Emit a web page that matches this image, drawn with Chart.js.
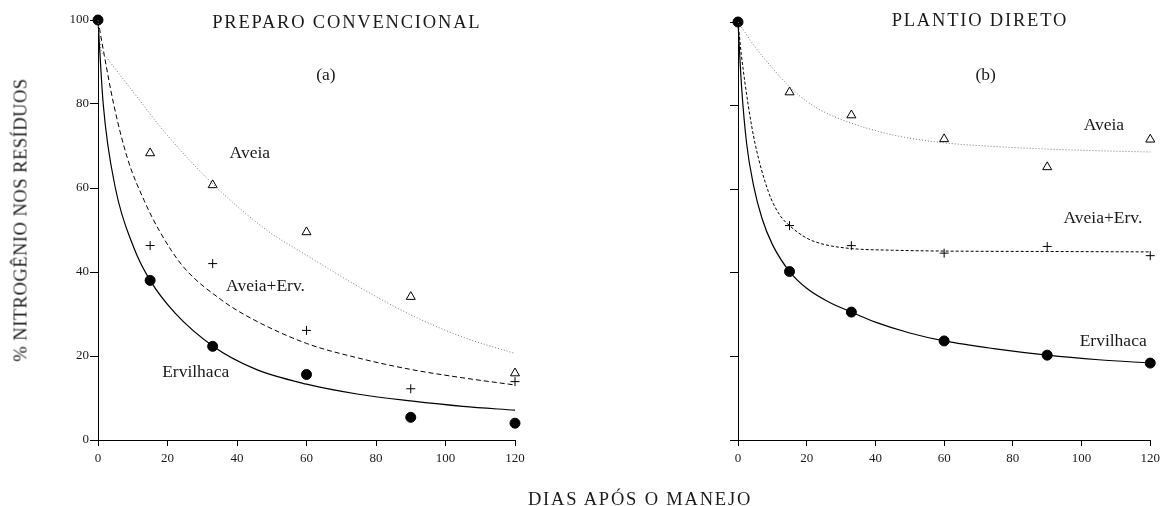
<!DOCTYPE html>
<html lang="pt">
<head>
<meta charset="utf-8">
<title>Nitrogênio nos resíduos</title>
<script src="https://cdn.jsdelivr.net/npm/chart.js@4.4.1/dist/chart.umd.min.js"></script>
<style>
  body { margin: 0; background: #fff; width: 1165px; height: 506px; position: relative; overflow: hidden; }
  canvas { position: absolute; top: 0; }
  #grafPC { left: 0; }
  #grafPD { left: 560px; }
  .titulo { position: absolute; font-family: "Liberation Serif", serif; color: #1a1a1a; white-space: nowrap; }
  #tituloY { left: 21px; top: 220px; font-size: 18.5px; letter-spacing: 0.5px; transform: translate(-50%, -50%) rotate(-90deg); }
  #tituloX { left: 640px; top: 499px; font-size: 18.5px; letter-spacing: 1.8px; transform: translate(-50%, -50%); }
</style>
</head>
<body>
<canvas id="grafPC" width="540" height="506"></canvas>
<canvas id="grafPD" width="605" height="506"></canvas>
<div class="titulo" id="tituloY">% NITROGÊNIO NOS RESÍDUOS</div>
<div class="titulo" id="tituloX">DIAS APÓS O MANEJO</div>
<script>
// Dias das coletas (pontos observados)
const dias = [0, 15, 33, 60, 90, 120];

// Preparo convencional - valores observados
const pcErvilha = [100, 38, 22.3, 15.6, 5.4, 4.0];
const pcMistura = [null, 46.3, 42, 26.1, 12.2, 13.9];
const pcAveia = [null, 68.3, 60.7, 49.5, 34.1, 15.9];

// Plantio direto - valores observados
const pdErvilha = [100, 40.3, 30.6, 23.7, 20.3, 18.4];
const pdMistura = [null, 51.3, 46.5, 44.7, 46.3, 44.1];
const pdAveia = [null, 83.2, 77.7, 72.0, 65.3, 71.9];

// Curvas ajustadas
const pcCurvaErvilhaX = [0, 1.5, 5, 10.4, 15, 22.2, 33, 45, 60, 75, 90, 105, 120];
const pcCurvaErvilhaY = [100, 80, 60, 45.6, 38, 30.2, 22.4, 17, 13.3, 10.9, 9.3, 8, 7.1];
const pcCurvaMisturaX = [0, 1.5, 4.5, 8.5, 13.3, 17.8, 24.5, 35.6, 44, 60, 75, 90, 105, 120];
const pcCurvaMisturaY = [100, 93, 80, 67, 57, 49.6, 41.3, 33.3, 29, 23, 19.5, 16.8, 14.8, 13.1];
const pcCurvaAveiaX = [0, 1, 2, 4, 10, 20, 33, 48.5, 60, 75, 90, 105, 120];
const pcCurvaAveiaY = [100, 92.5, 91.5, 89.4, 83, 72.5, 61, 50, 44, 36.5, 29.8, 24.5, 20.6];

const pdCurvaErvilhaX = [0, 1, 2.5, 4.5, 7, 10, 15, 20, 26, 33, 40, 50, 60, 75, 90, 105, 120];
const pdCurvaErvilhaY = [100, 85, 71, 61, 53, 46.8, 40.3, 36.3, 33.2, 30.6, 28.2, 25.6, 23.7, 21.8, 20.3, 19.2, 18.4];
const pdCurvaMisturaX = [0, 1, 3, 5, 8.8, 12, 15, 20, 25, 33, 45, 60, 90, 120];
const pdCurvaMisturaY = [100, 92, 80, 70.8, 59.5, 54, 51.3, 48.3, 46.8, 45.8, 45.4, 45.2, 45.1, 45];
const pdCurvaAveiaX = [0, 5, 10, 15, 20, 25, 33, 45, 60, 75, 90, 105, 120];
const pdCurvaAveiaY = [100, 94, 89, 84.5, 81, 78.5, 75.8, 73, 71.1, 70.2, 69.6, 69.2, 68.9];

const fonte = "Liberation Serif";
const corTexto = "#1a1a1a";

function pares(xs, ys) {
    return xs.map((x, i) => ({ x: x, y: ys[i] })).filter(p => p.y !== null);
}

function curva(xs, ys, cor, tracejado, largura) {
    return {
        type: "line",
        data: pares(xs, ys),
        showLine: true,
        borderColor: cor,
        borderWidth: largura,
        borderDash: tracejado,
        pointRadius: 0,
        cubicInterpolationMode: "monotone",
        fill: false,
        clip: false,
    };
}

function marcas(ys, estilo, raio, fundo) {
    return {
        type: "scatter",
        data: pares(dias, ys),
        pointStyle: estilo,
        pointRadius: raio,
        backgroundColor: fundo,
        borderColor: "#000",
        borderWidth: 1,
        clip: false,
    };
}

// Plugin simples para escrever os rótulos dentro do gráfico
const pluginRotulos = {
    id: "rotulos",
    afterDatasetsDraw(chart, args, opts) {
        const ctx = chart.ctx;
        ctx.save();
        ctx.fillStyle = corTexto;
        ctx.textAlign = "center";
        ctx.textBaseline = "middle";
        for (const r of opts.itens) {
            ctx.font = r.tamanho + "px '" + fonte + "'";
            ctx.letterSpacing = (r.espaco || 0) + "px";
            ctx.fillText(r.texto, chart.scales.x.getPixelForValue(r.x), chart.scales.y.getPixelForValue(r.y));
        }
        ctx.restore();
    },
};

function opcoes(larguraY, mostraNumerosY, padding, rotulos) {
    return {
        responsive: false,
        animation: false,
        events: [],
        layout: { padding: padding },
        plugins: {
            legend: { display: false },
            tooltip: { enabled: false },
            rotulos: { itens: rotulos },
        },
        scales: {
            x: {
                type: "linear",
                min: 0,
                max: 120,
                ticks: { stepSize: 20, color: corTexto, font: { family: fonte, size: 13 }, padding: 5, maxRotation: 0 },
                grid: { drawOnChartArea: false, drawTicks: true, tickLength: 6, color: "#000" },
                border: { color: "#000", width: 1 },
                afterFit: (s) => { s.height = 66; },
            },
            y: {
                type: "linear",
                min: 0,
                max: 100,
                ticks: {
                    stepSize: 20,
                    color: corTexto,
                    font: { family: fonte, size: 13 },
                    padding: 1,
                    callback: (v) => (mostraNumerosY ? v : ""),
                },
                grid: { drawOnChartArea: false, drawTicks: true, tickLength: 8, color: "#000" },
                border: { color: "#000", width: 1 },
                afterFit: (s) => { s.width = larguraY; },
            },
        },
    };
}

new Chart(document.getElementById("grafPC"), {
    type: "scatter",
    data: {
        datasets: [
            curva(pcCurvaAveiaX, pcCurvaAveiaY, "#777", [1, 2], 1),
            curva(pcCurvaMisturaX, pcCurvaMisturaY, "#000", [5, 3], 1),
            curva(pcCurvaErvilhaX, pcCurvaErvilhaY, "#000", [], 1.2),
            marcas(pcAveia, "triangle", 5.2, "#fff"),
            marcas(pcMistura, "cross", 4.5, "#000"),
            marcas(pcErvilha, "circle", 5, "#000"),
        ],
    },
    options: opcoes(98, true, { left: 0, right: 25, top: 20, bottom: 0 }, [
        { texto: "PREPARO CONVENCIONAL", x: 71.6, y: 99.3, tamanho: 18.5, espaco: 1.8 },
        { texto: "(a)", x: 65.6, y: 86.7, tamanho: 17.5 },
        { texto: "Aveia", x: 43.7, y: 68.3, tamanho: 17.5 },
        { texto: "Aveia+Erv.", x: 48.2, y: 36.5, tamanho: 17.5 },
        { texto: "Ervilhaca", x: 28.1, y: 16, tamanho: 17.5 },
    ]),
    plugins: [pluginRotulos],
});

new Chart(document.getElementById("grafPD"), {
    type: "scatter",
    data: {
        datasets: [
            curva(pdCurvaAveiaX, pdCurvaAveiaY, "#777", [1, 2], 1),
            curva(pdCurvaMisturaX, pdCurvaMisturaY, "#000", [3, 2], 1),
            curva(pdCurvaErvilhaX, pdCurvaErvilhaY, "#000", [], 1.2),
            marcas(pdAveia, "triangle", 5.2, "#fff"),
            marcas(pdMistura, "cross", 4.5, "#000"),
            marcas(pdErvilha, "circle", 5, "#000"),
        ],
    },
    options: opcoes(178, false, { left: 0, right: 10, top: 22, bottom: 0 }, [
        { texto: "PLANTIO DIRETO", x: 70.4, y: 100.1, tamanho: 18.5, espaco: 1.8 },
        { texto: "(b)", x: 72.1, y: 87.2, tamanho: 17.5 },
        { texto: "Aveia", x: 106.5, y: 75.2, tamanho: 17.5 },
        { texto: "Aveia+Erv.", x: 106.2, y: 52.9, tamanho: 17.5 },
        { texto: "Ervilhaca", x: 109.2, y: 23.5, tamanho: 17.5 },
    ]),
    plugins: [pluginRotulos],
});
</script>
</body>
</html>
